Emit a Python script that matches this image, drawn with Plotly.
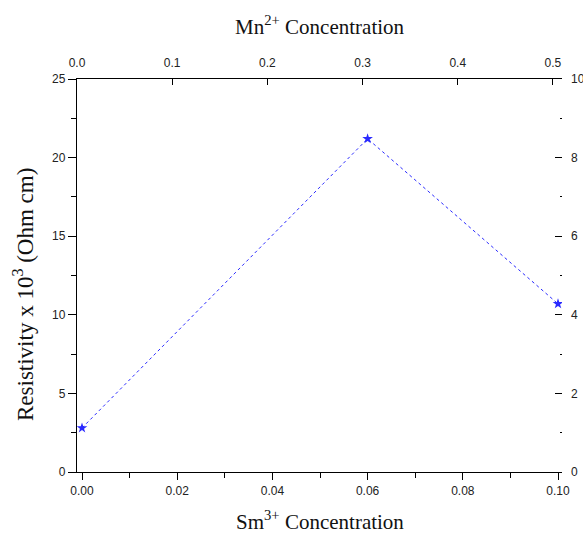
import plotly.graph_objects as go

# Resistivity vs. dopant concentration
sm_conc = [0.00, 0.06, 0.10]          # Sm3+ concentration (bottom axis)
resistivity = [2.8, 21.2, 10.7]       # resistivity x 10^3 (Ohm cm)

bottom_ticks = [0.00, 0.02, 0.04, 0.06, 0.08, 0.10]
top_ticks = [0.0, 0.1, 0.2, 0.3, 0.4, 0.5]
left_ticks = [0, 5, 10, 15, 20, 25]
right_ticks = [0, 2, 4, 6, 8, 10]

BLUE = "#2a2aff"
TICKFONT = dict(family="Liberation Sans", size=12, color="#222222")
SERIF = "Liberation Serif"

fig = go.Figure()

fig.add_trace(go.Scatter(
    x=sm_conc, y=resistivity,
    mode="lines+markers",
    line=dict(color=BLUE, width=1, dash="dot"),
    marker=dict(symbol="star", size=8, color=BLUE),
    showlegend=False,
))

# empty trace so the secondary (top/right) axes get drawn
fig.add_trace(go.Scatter(x=[], y=[], xaxis="x2", yaxis="y2", showlegend=False))

fig.update_layout(
    width=583, height=535,
    margin=dict(l=77, r=21, t=79, b=63, autoexpand=False),
    paper_bgcolor="white", plot_bgcolor="white",
    xaxis=dict(
        range=[-0.00105, 0.10084], automargin=False,
        tickvals=bottom_ticks, tickformat=".2f",
        ticks="outside", ticklen=7, tickwidth=1, tickcolor="black",
        minor=dict(dtick=0.01, tick0=0, ticks="outside", ticklen=5, tickcolor="black"),
        showline=True, linecolor="black", linewidth=1.3,
        showgrid=False, zeroline=False, tickfont=TICKFONT,
    ),
    xaxis2=dict(
        overlaying="x", side="top", anchor="y2", automargin=False,
        range=[0, 0.5095],
        tickvals=top_ticks, tickformat=".1f",
        ticks="inside", ticklen=6, tickcolor="black",
        showline=True, linecolor="black", linewidth=1.3,
        showgrid=False, zeroline=False, tickfont=TICKFONT,
        ticklabelstandoff=6,
    ),
    yaxis=dict(
        range=[0, 25], automargin=False,
        tickvals=left_ticks,
        ticks="outside", ticklen=8, tickcolor="black",
        minor=dict(dtick=2.5, tick0=0, ticks="outside", ticklen=5, tickcolor="black"),
        showline=True, linecolor="black", linewidth=1.3,
        showgrid=False, zeroline=False, tickfont=TICKFONT,
    ),
    yaxis2=dict(
        overlaying="y", side="right", anchor="x2", automargin=False,
        range=[0, 10],
        tickvals=right_ticks,
        ticks="inside", ticklen=7, tickcolor="black",
        minor=dict(dtick=1, tick0=0, ticks="inside", ticklen=2, tickcolor="black"),
        showline=False,
        showgrid=False, zeroline=False, tickfont=TICKFONT,
        ticklabelstandoff=8,
    ),
    annotations=[
        dict(text="Mn<sup>2+</sup> Concentration", xref="paper", yref="paper",
             x=0.5, y=1 + (79 - 26) / 393, showarrow=False,
             font=dict(family=SERIF, size=21, color="#111111"),
             xanchor="center", yanchor="middle"),
        dict(text="Sm<sup>3+</sup> Concentration", xref="paper", yref="paper",
             x=0.5, y=-(520 - 472) / 393, showarrow=False,
             font=dict(family=SERIF, size=21, color="#111111"),
             xanchor="center", yanchor="middle"),
        dict(text="Resistivity x 10<sup>3</sup> (Ohm cm)", xref="paper", yref="paper",
             x=-(77 - 23) / 485, y=(472 - 295) / 393, showarrow=False, textangle=-90,
             font=dict(family=SERIF, size=23, color="#111111"),
             xanchor="center", yanchor="middle"),
    ],
)

fig.write_html("out.html")
